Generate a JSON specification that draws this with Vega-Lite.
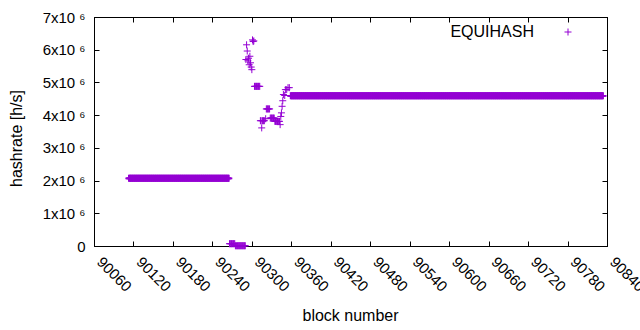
{
"$schema":"https://vega.github.io/schema/vega-lite/v6.json",
"width":513,"height":229,
"autosize":"none",
"padding":{"left":94,"top":17,"right":33,"bottom":84},
"background":"white",
"config":{"view":{"stroke":"black","strokeWidth":1},"font":"Liberation Sans",
 "axis":{"grid":false,"domainColor":"black","tickColor":"black","tickSize":-5,"labelColor":"black","labelFontSize":15,"titleFontSize":16,"titleFontWeight":"normal","titleColor":"black","labelFlush":false,"labelOverlap":false}},
"data":{"values":[
{"b":90113,"h":2070000},{"b":90114,"h":2070000},{"b":90115,"h":2070000},{"b":90116,"h":2070000},{"b":90117,"h":2070000},{"b":90118,"h":2070000},{"b":90119,"h":2070000},{"b":90120,"h":2070000},{"b":90121,"h":2070000},{"b":90122,"h":2070000},
{"b":90123,"h":2070000},{"b":90124,"h":2070000},{"b":90125,"h":2070000},{"b":90126,"h":2070000},{"b":90127,"h":2070000},{"b":90128,"h":2070000},{"b":90129,"h":2070000},{"b":90130,"h":2070000},{"b":90131,"h":2070000},{"b":90132,"h":2070000},
{"b":90133,"h":2070000},{"b":90134,"h":2070000},{"b":90135,"h":2070000},{"b":90136,"h":2070000},{"b":90137,"h":2070000},{"b":90138,"h":2070000},{"b":90139,"h":2070000},{"b":90140,"h":2070000},{"b":90141,"h":2070000},{"b":90142,"h":2070000},
{"b":90143,"h":2070000},{"b":90144,"h":2070000},{"b":90145,"h":2070000},{"b":90146,"h":2070000},{"b":90147,"h":2070000},{"b":90148,"h":2070000},{"b":90149,"h":2070000},{"b":90150,"h":2070000},{"b":90151,"h":2070000},{"b":90152,"h":2070000},
{"b":90153,"h":2070000},{"b":90154,"h":2070000},{"b":90155,"h":2070000},{"b":90156,"h":2070000},{"b":90157,"h":2070000},{"b":90158,"h":2070000},{"b":90159,"h":2070000},{"b":90160,"h":2070000},{"b":90161,"h":2070000},{"b":90162,"h":2070000},
{"b":90163,"h":2070000},{"b":90164,"h":2070000},{"b":90165,"h":2070000},{"b":90166,"h":2070000},{"b":90167,"h":2070000},{"b":90168,"h":2070000},{"b":90169,"h":2070000},{"b":90170,"h":2070000},{"b":90171,"h":2070000},{"b":90172,"h":2070000},
{"b":90173,"h":2070000},{"b":90174,"h":2070000},{"b":90175,"h":2070000},{"b":90176,"h":2070000},{"b":90177,"h":2070000},{"b":90178,"h":2070000},{"b":90179,"h":2070000},{"b":90180,"h":2070000},{"b":90181,"h":2070000},{"b":90182,"h":2070000},
{"b":90183,"h":2070000},{"b":90184,"h":2070000},{"b":90185,"h":2070000},{"b":90186,"h":2070000},{"b":90187,"h":2070000},{"b":90188,"h":2070000},{"b":90189,"h":2070000},{"b":90190,"h":2070000},{"b":90191,"h":2070000},{"b":90192,"h":2070000},
{"b":90193,"h":2070000},{"b":90194,"h":2070000},{"b":90195,"h":2070000},{"b":90196,"h":2070000},{"b":90197,"h":2070000},{"b":90198,"h":2070000},{"b":90199,"h":2070000},{"b":90200,"h":2070000},{"b":90201,"h":2070000},{"b":90202,"h":2070000},
{"b":90203,"h":2070000},{"b":90204,"h":2070000},{"b":90205,"h":2070000},{"b":90206,"h":2070000},{"b":90207,"h":2070000},{"b":90208,"h":2070000},{"b":90209,"h":2070000},{"b":90210,"h":2070000},{"b":90211,"h":2070000},{"b":90212,"h":2070000},
{"b":90213,"h":2070000},{"b":90214,"h":2070000},{"b":90215,"h":2070000},{"b":90216,"h":2070000},{"b":90217,"h":2070000},{"b":90218,"h":2070000},{"b":90219,"h":2070000},{"b":90220,"h":2070000},{"b":90221,"h":2070000},{"b":90222,"h":2070000},
{"b":90223,"h":2070000},{"b":90224,"h":2070000},{"b":90225,"h":2070000},{"b":90226,"h":2070000},{"b":90227,"h":2070000},{"b":90228,"h":2070000},{"b":90229,"h":2070000},{"b":90230,"h":2070000},{"b":90231,"h":2070000},{"b":90232,"h":2070000},
{"b":90233,"h":2070000},{"b":90234,"h":2070000},{"b":90235,"h":2070000},{"b":90236,"h":2070000},{"b":90237,"h":2070000},{"b":90238,"h":2070000},{"b":90239,"h":2070000},{"b":90240,"h":2070000},{"b":90241,"h":2070000},{"b":90242,"h":2070000},
{"b":90243,"h":2070000},{"b":90244,"h":2070000},{"b":90245,"h":2070000},{"b":90246,"h":2070000},{"b":90247,"h":2070000},{"b":90248,"h":2070000},{"b":90249,"h":2070000},{"b":90250,"h":2070000},{"b":90251,"h":2070000},{"b":90252,"h":2070000},
{"b":90253,"h":2070000},{"b":90254,"h":2070000},{"b":90255,"h":2070000},{"b":90256,"h":2070000},{"b":90257,"h":2070000},{"b":90258,"h":2070000},{"b":90259,"h":2070000},{"b":90260,"h":2070000},{"b":90261,"h":2070000},{"b":90262,"h":2070000},
{"b":90263,"h":2070000},{"b":90264,"h":2070000},{"b":90265,"h":2070000},
{"b":90266,"h":70000},{"b":90267,"h":70000},{"b":90268,"h":70000},{"b":90269,"h":70000},{"b":90270,"h":70000},{"b":90271,"h":70000},{"b":90272,"h":70000},{"b":90273,"h":70000},{"b":90274,"h":70000},
{"b":90275,"h":8000},{"b":90276,"h":8000},{"b":90277,"h":8000},{"b":90278,"h":8000},{"b":90279,"h":8000},{"b":90280,"h":8000},{"b":90281,"h":8000},{"b":90282,"h":8000},{"b":90283,"h":8000},{"b":90284,"h":8000},
{"b":90285,"h":8000},{"b":90286,"h":8000},{"b":90287,"h":8000},{"b":90288,"h":8000},{"b":90289,"h":8000},{"b":90290,"h":8000},
{"b":90291,"h":5700000},{"b":90292,"h":6150000},{"b":90293,"h":5960000},{"b":90294,"h":5660000},{"b":90295,"h":5740000},{"b":90296,"h":5540000},{"b":90297,"h":5800000},{"b":90298,"h":5600000},{"b":90299,"h":5470000},{"b":90300,"h":5390000},
{"b":90301,"h":6300000},{"b":90302,"h":6250000},{"b":90303,"h":6270000},
{"b":90304,"h":4880000},{"b":90305,"h":4880000},{"b":90306,"h":4880000},{"b":90307,"h":4880000},{"b":90308,"h":4880000},{"b":90309,"h":4880000},{"b":90310,"h":4880000},{"b":90311,"h":4880000},{"b":90312,"h":4880000},
{"b":90313,"h":3830000},{"b":90314,"h":3830000},{"b":90315,"h":3610000},{"b":90316,"h":3830000},{"b":90317,"h":3830000},{"b":90318,"h":3830000},{"b":90319,"h":3830000},
{"b":90321,"h":3890000},{"b":90322,"h":4190000},{"b":90323,"h":4190000},{"b":90324,"h":4190000},{"b":90325,"h":4190000},{"b":90326,"h":4190000},{"b":90327,"h":4190000},
{"b":90328,"h":3910000},{"b":90329,"h":3910000},{"b":90330,"h":3910000},{"b":90331,"h":3910000},{"b":90332,"h":3910000},{"b":90333,"h":3910000},{"b":90334,"h":3910000},
{"b":90335,"h":3810000},{"b":90336,"h":3810000},{"b":90337,"h":3810000},{"b":90338,"h":3810000},{"b":90339,"h":3810000},{"b":90340,"h":3810000},{"b":90341,"h":3810000},{"b":90342,"h":3810000},
{"b":90343,"h":3710000},{"b":90344,"h":3960000},{"b":90345,"h":4070000},{"b":90346,"h":4270000},{"b":90347,"h":4440000},{"b":90348,"h":4630000},{"b":90350,"h":4600000},{"b":90351,"h":4780000},{"b":90353,"h":4780000},{"b":90355,"h":4840000},{"b":90357,"h":4840000},
{"b":90359,"h":4590000},{"b":90360,"h":4590000},{"b":90361,"h":4590000},{"b":90362,"h":4590000},{"b":90363,"h":4590000},{"b":90364,"h":4590000},{"b":90365,"h":4590000},{"b":90366,"h":4590000},{"b":90367,"h":4590000},{"b":90368,"h":4590000},
{"b":90369,"h":4590000},{"b":90370,"h":4590000},{"b":90371,"h":4590000},{"b":90372,"h":4590000},{"b":90373,"h":4590000},{"b":90374,"h":4590000},{"b":90375,"h":4590000},{"b":90376,"h":4590000},{"b":90377,"h":4590000},{"b":90378,"h":4590000},
{"b":90379,"h":4590000},{"b":90380,"h":4590000},{"b":90381,"h":4590000},{"b":90382,"h":4590000},{"b":90383,"h":4590000},{"b":90384,"h":4590000},{"b":90385,"h":4590000},{"b":90386,"h":4590000},{"b":90387,"h":4590000},{"b":90388,"h":4590000},
{"b":90389,"h":4590000},{"b":90390,"h":4590000},{"b":90391,"h":4590000},{"b":90392,"h":4590000},{"b":90393,"h":4590000},{"b":90394,"h":4590000},{"b":90395,"h":4590000},{"b":90396,"h":4590000},{"b":90397,"h":4590000},{"b":90398,"h":4590000},
{"b":90399,"h":4590000},{"b":90400,"h":4590000},{"b":90401,"h":4590000},{"b":90402,"h":4590000},{"b":90403,"h":4590000},{"b":90404,"h":4590000},{"b":90405,"h":4590000},{"b":90406,"h":4590000},{"b":90407,"h":4590000},{"b":90408,"h":4590000},
{"b":90409,"h":4590000},{"b":90410,"h":4590000},{"b":90411,"h":4590000},{"b":90412,"h":4590000},{"b":90413,"h":4590000},{"b":90414,"h":4590000},{"b":90415,"h":4590000},{"b":90416,"h":4590000},{"b":90417,"h":4590000},{"b":90418,"h":4590000},
{"b":90419,"h":4590000},{"b":90420,"h":4590000},{"b":90421,"h":4590000},{"b":90422,"h":4590000},{"b":90423,"h":4590000},{"b":90424,"h":4590000},{"b":90425,"h":4590000},{"b":90426,"h":4590000},{"b":90427,"h":4590000},{"b":90428,"h":4590000},
{"b":90429,"h":4590000},{"b":90430,"h":4590000},{"b":90431,"h":4590000},{"b":90432,"h":4590000},{"b":90433,"h":4590000},{"b":90434,"h":4590000},{"b":90435,"h":4590000},{"b":90436,"h":4590000},{"b":90437,"h":4590000},{"b":90438,"h":4590000},
{"b":90439,"h":4590000},{"b":90440,"h":4590000},{"b":90441,"h":4590000},{"b":90442,"h":4590000},{"b":90443,"h":4590000},{"b":90444,"h":4590000},{"b":90445,"h":4590000},{"b":90446,"h":4590000},{"b":90447,"h":4590000},{"b":90448,"h":4590000},
{"b":90449,"h":4590000},{"b":90450,"h":4590000},{"b":90451,"h":4590000},{"b":90452,"h":4590000},{"b":90453,"h":4590000},{"b":90454,"h":4590000},{"b":90455,"h":4590000},{"b":90456,"h":4590000},{"b":90457,"h":4590000},{"b":90458,"h":4590000},
{"b":90459,"h":4590000},{"b":90460,"h":4590000},{"b":90461,"h":4590000},{"b":90462,"h":4590000},{"b":90463,"h":4590000},{"b":90464,"h":4590000},{"b":90465,"h":4590000},{"b":90466,"h":4590000},{"b":90467,"h":4590000},{"b":90468,"h":4590000},
{"b":90469,"h":4590000},{"b":90470,"h":4590000},{"b":90471,"h":4590000},{"b":90472,"h":4590000},{"b":90473,"h":4590000},{"b":90474,"h":4590000},{"b":90475,"h":4590000},{"b":90476,"h":4590000},{"b":90477,"h":4590000},{"b":90478,"h":4590000},
{"b":90479,"h":4590000},{"b":90480,"h":4590000},{"b":90481,"h":4590000},{"b":90482,"h":4590000},{"b":90483,"h":4590000},{"b":90484,"h":4590000},{"b":90485,"h":4590000},{"b":90486,"h":4590000},{"b":90487,"h":4590000},{"b":90488,"h":4590000},
{"b":90489,"h":4590000},{"b":90490,"h":4590000},{"b":90491,"h":4590000},{"b":90492,"h":4590000},{"b":90493,"h":4590000},{"b":90494,"h":4590000},{"b":90495,"h":4590000},{"b":90496,"h":4590000},{"b":90497,"h":4590000},{"b":90498,"h":4590000},
{"b":90499,"h":4590000},{"b":90500,"h":4590000},{"b":90501,"h":4590000},{"b":90502,"h":4590000},{"b":90503,"h":4590000},{"b":90504,"h":4590000},{"b":90505,"h":4590000},{"b":90506,"h":4590000},{"b":90507,"h":4590000},{"b":90508,"h":4590000},
{"b":90509,"h":4590000},{"b":90510,"h":4590000},{"b":90511,"h":4590000},{"b":90512,"h":4590000},{"b":90513,"h":4590000},{"b":90514,"h":4590000},{"b":90515,"h":4590000},{"b":90516,"h":4590000},{"b":90517,"h":4590000},{"b":90518,"h":4590000},
{"b":90519,"h":4590000},{"b":90520,"h":4590000},{"b":90521,"h":4590000},{"b":90522,"h":4590000},{"b":90523,"h":4590000},{"b":90524,"h":4590000},{"b":90525,"h":4590000},{"b":90526,"h":4590000},{"b":90527,"h":4590000},{"b":90528,"h":4590000},
{"b":90529,"h":4590000},{"b":90530,"h":4590000},{"b":90531,"h":4590000},{"b":90532,"h":4590000},{"b":90533,"h":4590000},{"b":90534,"h":4590000},{"b":90535,"h":4590000},{"b":90536,"h":4590000},{"b":90537,"h":4590000},{"b":90538,"h":4590000},
{"b":90539,"h":4590000},{"b":90540,"h":4590000},{"b":90541,"h":4590000},{"b":90542,"h":4590000},{"b":90543,"h":4590000},{"b":90544,"h":4590000},{"b":90545,"h":4590000},{"b":90546,"h":4590000},{"b":90547,"h":4590000},{"b":90548,"h":4590000},
{"b":90549,"h":4590000},{"b":90550,"h":4590000},{"b":90551,"h":4590000},{"b":90552,"h":4590000},{"b":90553,"h":4590000},{"b":90554,"h":4590000},{"b":90555,"h":4590000},{"b":90556,"h":4590000},{"b":90557,"h":4590000},{"b":90558,"h":4590000},
{"b":90559,"h":4590000},{"b":90560,"h":4590000},{"b":90561,"h":4590000},{"b":90562,"h":4590000},{"b":90563,"h":4590000},{"b":90564,"h":4590000},{"b":90565,"h":4590000},{"b":90566,"h":4590000},{"b":90567,"h":4590000},{"b":90568,"h":4590000},
{"b":90569,"h":4590000},{"b":90570,"h":4590000},{"b":90571,"h":4590000},{"b":90572,"h":4590000},{"b":90573,"h":4590000},{"b":90574,"h":4590000},{"b":90575,"h":4590000},{"b":90576,"h":4590000},{"b":90577,"h":4590000},{"b":90578,"h":4590000},
{"b":90579,"h":4590000},{"b":90580,"h":4590000},{"b":90581,"h":4590000},{"b":90582,"h":4590000},{"b":90583,"h":4590000},{"b":90584,"h":4590000},{"b":90585,"h":4590000},{"b":90586,"h":4590000},{"b":90587,"h":4590000},{"b":90588,"h":4590000},
{"b":90589,"h":4590000},{"b":90590,"h":4590000},{"b":90591,"h":4590000},{"b":90592,"h":4590000},{"b":90593,"h":4590000},{"b":90594,"h":4590000},{"b":90595,"h":4590000},{"b":90596,"h":4590000},{"b":90597,"h":4590000},{"b":90598,"h":4590000},
{"b":90599,"h":4590000},{"b":90600,"h":4590000},{"b":90601,"h":4590000},{"b":90602,"h":4590000},{"b":90603,"h":4590000},{"b":90604,"h":4590000},{"b":90605,"h":4590000},{"b":90606,"h":4590000},{"b":90607,"h":4590000},{"b":90608,"h":4590000},
{"b":90609,"h":4590000},{"b":90610,"h":4590000},{"b":90611,"h":4590000},{"b":90612,"h":4590000},{"b":90613,"h":4590000},{"b":90614,"h":4590000},{"b":90615,"h":4590000},{"b":90616,"h":4590000},{"b":90617,"h":4590000},{"b":90618,"h":4590000},
{"b":90619,"h":4590000},{"b":90620,"h":4590000},{"b":90621,"h":4590000},{"b":90622,"h":4590000},{"b":90623,"h":4590000},{"b":90624,"h":4590000},{"b":90625,"h":4590000},{"b":90626,"h":4590000},{"b":90627,"h":4590000},{"b":90628,"h":4590000},
{"b":90629,"h":4590000},{"b":90630,"h":4590000},{"b":90631,"h":4590000},{"b":90632,"h":4590000},{"b":90633,"h":4590000},{"b":90634,"h":4590000},{"b":90635,"h":4590000},{"b":90636,"h":4590000},{"b":90637,"h":4590000},{"b":90638,"h":4590000},
{"b":90639,"h":4590000},{"b":90640,"h":4590000},{"b":90641,"h":4590000},{"b":90642,"h":4590000},{"b":90643,"h":4590000},{"b":90644,"h":4590000},{"b":90645,"h":4590000},{"b":90646,"h":4590000},{"b":90647,"h":4590000},{"b":90648,"h":4590000},
{"b":90649,"h":4590000},{"b":90650,"h":4590000},{"b":90651,"h":4590000},{"b":90652,"h":4590000},{"b":90653,"h":4590000},{"b":90654,"h":4590000},{"b":90655,"h":4590000},{"b":90656,"h":4590000},{"b":90657,"h":4590000},{"b":90658,"h":4590000},
{"b":90659,"h":4590000},{"b":90660,"h":4590000},{"b":90661,"h":4590000},{"b":90662,"h":4590000},{"b":90663,"h":4590000},{"b":90664,"h":4590000},{"b":90665,"h":4590000},{"b":90666,"h":4590000},{"b":90667,"h":4590000},{"b":90668,"h":4590000},
{"b":90669,"h":4590000},{"b":90670,"h":4590000},{"b":90671,"h":4590000},{"b":90672,"h":4590000},{"b":90673,"h":4590000},{"b":90674,"h":4590000},{"b":90675,"h":4590000},{"b":90676,"h":4590000},{"b":90677,"h":4590000},{"b":90678,"h":4590000},
{"b":90679,"h":4590000},{"b":90680,"h":4590000},{"b":90681,"h":4590000},{"b":90682,"h":4590000},{"b":90683,"h":4590000},{"b":90684,"h":4590000},{"b":90685,"h":4590000},{"b":90686,"h":4590000},{"b":90687,"h":4590000},{"b":90688,"h":4590000},
{"b":90689,"h":4590000},{"b":90690,"h":4590000},{"b":90691,"h":4590000},{"b":90692,"h":4590000},{"b":90693,"h":4590000},{"b":90694,"h":4590000},{"b":90695,"h":4590000},{"b":90696,"h":4590000},{"b":90697,"h":4590000},{"b":90698,"h":4590000},
{"b":90699,"h":4590000},{"b":90700,"h":4590000},{"b":90701,"h":4590000},{"b":90702,"h":4590000},{"b":90703,"h":4590000},{"b":90704,"h":4590000},{"b":90705,"h":4590000},{"b":90706,"h":4590000},{"b":90707,"h":4590000},{"b":90708,"h":4590000},
{"b":90709,"h":4590000},{"b":90710,"h":4590000},{"b":90711,"h":4590000},{"b":90712,"h":4590000},{"b":90713,"h":4590000},{"b":90714,"h":4590000},{"b":90715,"h":4590000},{"b":90716,"h":4590000},{"b":90717,"h":4590000},{"b":90718,"h":4590000},
{"b":90719,"h":4590000},{"b":90720,"h":4590000},{"b":90721,"h":4590000},{"b":90722,"h":4590000},{"b":90723,"h":4590000},{"b":90724,"h":4590000},{"b":90725,"h":4590000},{"b":90726,"h":4590000},{"b":90727,"h":4590000},{"b":90728,"h":4590000},
{"b":90729,"h":4590000},{"b":90730,"h":4590000},{"b":90731,"h":4590000},{"b":90732,"h":4590000},{"b":90733,"h":4590000},{"b":90734,"h":4590000},{"b":90735,"h":4590000},{"b":90736,"h":4590000},{"b":90737,"h":4590000},{"b":90738,"h":4590000},
{"b":90739,"h":4590000},{"b":90740,"h":4590000},{"b":90741,"h":4590000},{"b":90742,"h":4590000},{"b":90743,"h":4590000},{"b":90744,"h":4590000},{"b":90745,"h":4590000},{"b":90746,"h":4590000},{"b":90747,"h":4590000},{"b":90748,"h":4590000},
{"b":90749,"h":4590000},{"b":90750,"h":4590000},{"b":90751,"h":4590000},{"b":90752,"h":4590000},{"b":90753,"h":4590000},{"b":90754,"h":4590000},{"b":90755,"h":4590000},{"b":90756,"h":4590000},{"b":90757,"h":4590000},{"b":90758,"h":4590000},
{"b":90759,"h":4590000},{"b":90760,"h":4590000},{"b":90761,"h":4590000},{"b":90762,"h":4590000},{"b":90763,"h":4590000},{"b":90764,"h":4590000},{"b":90765,"h":4590000},{"b":90766,"h":4590000},{"b":90767,"h":4590000},{"b":90768,"h":4590000},
{"b":90769,"h":4590000},{"b":90770,"h":4590000},{"b":90771,"h":4590000},{"b":90772,"h":4590000},{"b":90773,"h":4590000},{"b":90774,"h":4590000},{"b":90775,"h":4590000},{"b":90776,"h":4590000},{"b":90777,"h":4590000},{"b":90778,"h":4590000},
{"b":90779,"h":4590000},{"b":90780,"h":4590000},{"b":90781,"h":4590000},{"b":90782,"h":4590000},{"b":90783,"h":4590000},{"b":90784,"h":4590000},{"b":90785,"h":4590000},{"b":90786,"h":4590000},{"b":90787,"h":4590000},{"b":90788,"h":4590000},
{"b":90789,"h":4590000},{"b":90790,"h":4590000},{"b":90791,"h":4590000},{"b":90792,"h":4590000},{"b":90793,"h":4590000},{"b":90794,"h":4590000},{"b":90795,"h":4590000},{"b":90796,"h":4590000},{"b":90797,"h":4590000},{"b":90798,"h":4590000},
{"b":90799,"h":4590000},{"b":90800,"h":4590000},{"b":90801,"h":4590000},{"b":90802,"h":4590000},{"b":90803,"h":4590000},{"b":90804,"h":4590000},{"b":90805,"h":4590000},{"b":90806,"h":4590000},{"b":90807,"h":4590000},{"b":90808,"h":4590000},
{"b":90809,"h":4590000},{"b":90810,"h":4590000},{"b":90811,"h":4590000},{"b":90812,"h":4590000},{"b":90813,"h":4590000},{"b":90814,"h":4590000},{"b":90815,"h":4590000},{"b":90816,"h":4590000},{"b":90817,"h":4590000},{"b":90818,"h":4590000},
{"b":90819,"h":4590000},{"b":90820,"h":4590000},{"b":90821,"h":4590000},{"b":90822,"h":4590000},{"b":90823,"h":4590000},{"b":90824,"h":4590000},{"b":90825,"h":4590000},{"b":90826,"h":4590000},{"b":90827,"h":4590000},{"b":90828,"h":4590000},
{"b":90829,"h":4590000},{"b":90830,"h":4590000},{"b":90831,"h":4590000},{"b":90832,"h":4590000},{"b":90833,"h":4590000},{"b":90834,"h":4590000}
]},
"layer":[
 {"transform":[{"filter":"datum.h == 2070000 || datum.h == 4590000"}],
  "mark":{"type":"point","shape":"M-1,0L1,0M0,-1L0,1","filled":false,"size":49,"strokeWidth":1.7,"opacity":1},
  "encoding":{
   "x":{"field":"b","type":"quantitative","scale":{"domain":[90060,90840],"nice":false,"zero":false},
        "axis":{"orient":"bottom","values":[90060,90120,90180,90240,90300,90360,90420,90480,90540,90600,90660,90720,90780,90840],"format":"d","labelAngle":45,"labelAlign":"left","labelBaseline":"middle","labelPadding":18,"labelOffset":5,"title":"block number","titleX":256,"titleY":69,"titleBaseline":"middle"}},
   "y":{"field":"h","type":"quantitative","scale":{"domain":[0,7000000],"nice":false,"zero":true},
        "axis":{"orient":"left","values":[0,1000000,2000000,3000000,4000000,5000000,6000000,7000000],"labelExpr":"datum.value == 0 ? '0' : format(datum.value/1000000, 'd') + 'x10 \u2076'","labelPadding":14,"title":"hashrate [h/s]","titleX":-78,"titleY":121,"titleBaseline":"middle","titleAngle":-90}},
   "color":{"datum":"EQUIHASH","type":"nominal","scale":{"range":["#9400d3"]},
        "legend":{"orient":"none","legendX":466,"legendY":7,"title":null,"padding":0,"labelAlign":"right","labelOffset":-42,"labelFontSize":16,"labelColor":"black","symbolType":"M-1,0L1,0M0,-1L0,1","symbolSize":49,"symbolStrokeWidth":1}}
  }},
 {"transform":[{"filter":"datum.h != 2070000 && datum.h != 4590000"}],
  "mark":{"type":"point","shape":"M-1,0L1,0M0,-1L0,1","filled":false,"size":49,"strokeWidth":1,"opacity":1},
  "encoding":{
   "x":{"field":"b","type":"quantitative","axis":null},
   "y":{"field":"h","type":"quantitative","axis":null},
   "color":{"datum":"EQUIHASH","type":"nominal"}
  }},
 {"mark":{"type":"point","opacity":0},
  "encoding":{
   "x":{"field":"b","type":"quantitative","axis":{"orient":"top","values":[90060,90120,90180,90240,90300,90360,90420,90480,90540,90600,90660,90720,90780,90840],"labels":false,"title":null}},
   "y":{"field":"h","type":"quantitative","axis":{"orient":"right","values":[0,1000000,2000000,3000000,4000000,5000000,6000000,7000000],"labels":false,"title":null}}
  }}
],
"resolve":{"axis":{"x":"independent","y":"independent"}}
}
